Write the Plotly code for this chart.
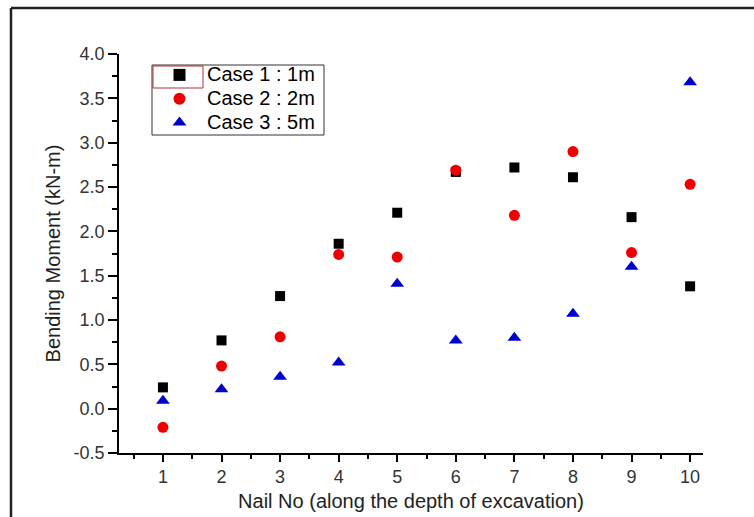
import plotly.graph_objects as go

# Bending moment in each soil nail, three excavation cases
nail_no = [1, 2, 3, 4, 5, 6, 7, 8, 9, 10]
case1_1m = [0.24, 0.77, 1.27, 1.86, 2.21, 2.67, 2.72, 2.61, 2.16, 1.38]
case2_2m = [-0.21, 0.48, 0.81, 1.74, 1.71, 2.69, 2.18, 2.90, 1.76, 2.53]
case3_5m = [0.09, 0.22, 0.36, 0.52, 1.41, 0.77, 0.80, 1.07, 1.60, 3.68]
case_names = ["Case 1 : 1m", "Case 2 : 2m", "Case 3 : 5m"]

x_ticks = list(range(1, 11))
y_ticks = [-0.5, 0.0, 0.5, 1.0, 1.5, 2.0, 2.5, 3.0, 3.5, 4.0]

W, H = 754, 517
L, R, T, B = 119, 51, 54, 64
pw, ph = W - L - R, H - T - B
FONT = "Arial, Liberation Sans, sans-serif"


def px_x(px):
    return (px - L) / pw


def px_y(py):
    return (H - B - py) / ph


def legend_label(text):
    # larger label text while keeping compact legend rows
    return f"<span style='font-size:20px'>{text}</span>"


fig = go.Figure()
fig.add_trace(go.Scatter(x=nail_no, y=case1_1m, mode="markers", name=legend_label(case_names[0]),
                         marker=dict(symbol="square", size=10, color="black")))
fig.add_trace(go.Scatter(x=nail_no, y=case2_2m, mode="markers", name=legend_label(case_names[1]),
                         marker=dict(symbol="circle", size=11, color="#ee0000")))
fig.add_trace(go.Scatter(x=nail_no, y=case3_5m, mode="markers", name=legend_label(case_names[2]),
                         marker=dict(symbol="triangle-up", size=12, color="#0000cc")))

axis_common = dict(showgrid=False, zeroline=False, showline=True, linecolor="black",
                   linewidth=1.5, ticks="outside", tickcolor="black", tickwidth=1.5,
                   tickfont=dict(family=FONT, size=18, color="#333333"),
                   mirror=False, automargin=False)

fig.update_layout(
    width=W, height=H,
    margin=dict(l=L, r=R, t=T, b=B),
    paper_bgcolor="white", plot_bgcolor="white",
    showlegend=True,
    legend=dict(x=px_x(152), y=px_y(58), xanchor="left", yanchor="top",
                bgcolor="rgba(0,0,0,0)", borderwidth=0,
                font=dict(family=FONT, size=16, color="black"),
                itemsizing="constant", itemwidth=45, tracegroupgap=0),
    xaxis=dict(range=[0.25, 10.22], tickvals=x_ticks, ticktext=[str(v) for v in x_ticks],
               ticklen=7,
               minor=dict(ticks="outside", ticklen=4, tickwidth=1.5, tickcolor="black",
                          dtick=0.5, tick0=0.5, showgrid=False),
               title=dict(text="Nail No (along the depth of excavation)",
                          font=dict(family=FONT, size=20, color="#222222"),
                          standoff=8),
               **axis_common),
    yaxis=dict(range=[-0.5, 4.0], tickvals=y_ticks, ticktext=[f"{v:.1f}" for v in y_ticks],
               ticklen=9,
               minor=dict(ticks="outside", ticklen=5, tickwidth=1.5, tickcolor="black",
                          dtick=0.25, tick0=0, showgrid=False),
               title=dict(text="Bending Moment (kN-m)",
                          font=dict(family=FONT, size=20, color="#222222"),
                          standoff=8),
               **axis_common),
    shapes=[
        # outer frame (left and top edges)
        dict(type="line", xref="paper", yref="paper", x0=px_x(11), x1=px_x(11),
             y0=px_y(H + 5), y1=px_y(8), line=dict(color="#222222", width=2.5)),
        dict(type="line", xref="paper", yref="paper", x0=px_x(11), x1=px_x(W + 5),
             y0=px_y(8), y1=px_y(8), line=dict(color="#222222", width=2.5)),
        # legend border
        dict(type="rect", xref="paper", yref="paper", x0=px_x(152), x1=px_x(324),
             y0=px_y(135), y1=px_y(65), line=dict(color="#333333", width=1)),
        # highlight box round the first legend symbol
        dict(type="rect", xref="paper", yref="paper", x0=px_x(153), x1=px_x(203),
             y0=px_y(88), y1=px_y(66), line=dict(color="#b03030", width=1)),
    ],
)

fig.write_html("out.html")
